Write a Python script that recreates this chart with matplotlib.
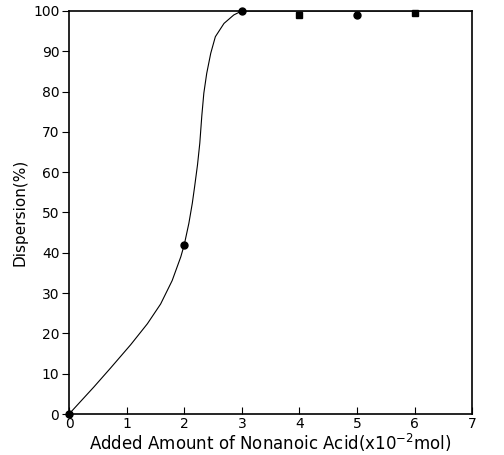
import numpy as np
import matplotlib.pyplot as plt

# measured points
amount = [0, 2, 3, 4, 5, 6]
dispersion = [0, 42, 100, 99, 99, 99.5]
marker_kind = ['o', 'o', 'o', 's', 'o', 's']

# hand-drawn guide curve
curve_x = [0, 0.43, 0.72, 1.07, 1.36, 1.59, 1.79, 1.94, 2.0, 2.08, 2.14, 2.18,
           2.23, 2.27, 2.305, 2.34, 2.39, 2.46, 2.54, 2.69, 2.86, 3.0, 7.0]
curve_y = [0, 6.7, 11.4, 17.2, 22.4, 27.3, 33.1, 39.0, 42, 47.3, 52.3, 56.4,
           61.8, 67.2, 74.0, 79.6, 84.5, 89.5, 93.6, 96.9, 99.0, 100, 100]

fig = plt.figure(figsize=(5.04, 4.55), dpi=100)
ax = fig.add_axes([0.137, 0.090, 0.800, 0.886])

ax.plot(curve_x, curve_y, color='black', lw=0.8)
for x, y, m in zip(amount, dispersion, marker_kind):
    ax.plot(x, y, marker=m, color='black', ms=5, ls='none', clip_on=False)

ax.set_xlim(0, 7)
ax.set_ylim(0, 100)
ax.set_xticks(range(0, 8))
ax.set_yticks(range(0, 101, 10))
ax.tick_params(axis='x', direction='in', length=5, labelsize=10, pad=2)
ax.tick_params(axis='y', direction='out', length=5, labelsize=10, pad=2)
for s in ax.spines.values():
    s.set_linewidth(1.2)

ax.set_xlabel('Added Amount of Nonanoic Acid(x10$^{-2}$mol)', fontsize=12, labelpad=1)
ax.set_ylabel('Dispersion(%)', fontsize=11, labelpad=4)

fig.savefig('out.png', dpi=100)
